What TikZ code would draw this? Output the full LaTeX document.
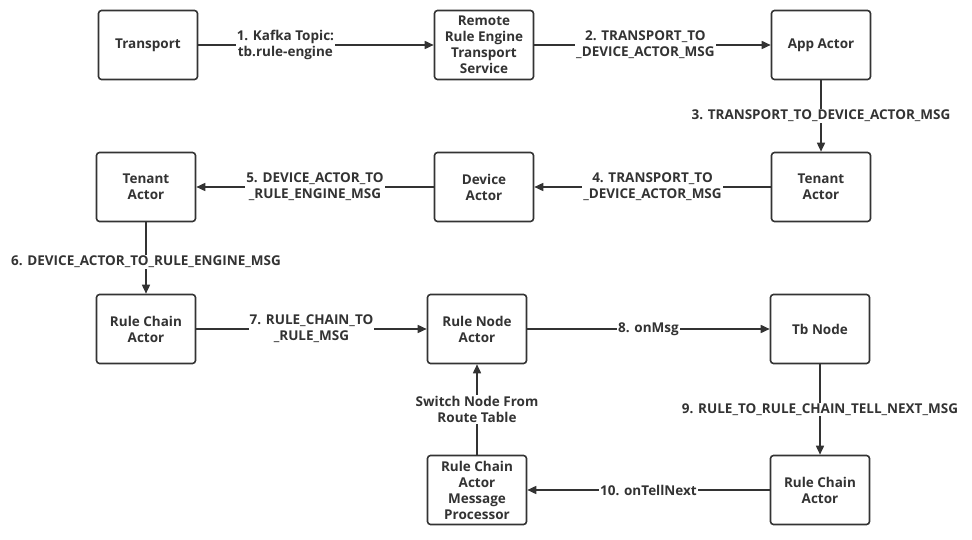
\documentclass[tikz,border=0pt]{standalone}
\usepackage{fontspec}
\setmainfont{Open Sans}
\usetikzlibrary{arrows.meta}
\definecolor{ink}{HTML}{333333}
\tikzset{
  box/.style={draw=ink, line width=1.6pt, rounded corners=3pt, minimum width=99pt, minimum height=69pt, align=center, text=ink, font=\bfseries\fontsize{13.5}{16}\selectfont, inner sep=2pt},
  conn/.style={draw=ink, line width=1.6pt, -{Triangle[length=9pt,width=8pt]}},
  lbl/.style={fill=white, text=ink, align=center, font=\bfseries\fontsize{13.5}{16}\selectfont, inner sep=1pt}
}
\begin{document}
\begin{tikzpicture}[x=1pt,y=-1pt]
\useasboundingbox[fill=white] (0,0) rectangle (972,540);
\node[box] (transport) at (148,45) {Transport};
\node[box] (remote) at (484,45) {Remote\\Rule Engine\\Transport\\Service};
\node[box] (app) at (821,45) {App Actor};
\node[box] (tenantR) at (821,187) {Tenant\\Actor};
\node[box] (device) at (484,187) {Device\\Actor};
\node[box] (tenantL) at (146,187) {Tenant\\Actor};
\node[box] (rcaL) at (146,329) {Rule Chain\\Actor};
\node[box] (rna) at (477,329) {Rule Node\\Actor};
\node[box] (tb) at (820,329) {Tb Node};
\node[box] (rcaR) at (820,490) {Rule Chain\\Actor};
\node[box] (proc) at (477,490) {Rule Chain\\Actor\\Message\\Processor};

\draw[conn] (transport) -- node[lbl, pos=0.37] {1. Kafka Topic:\\tb.rule-engine} (remote);
\draw[conn] (remote) -- node[lbl, pos=0.47] {2. TRANSPORT\_TO\\\_DEVICE\_ACTOR\_MSG} (app);
\draw[conn] (app) -- node[lbl] {3. TRANSPORT\_TO\_DEVICE\_ACTOR\_MSG} (tenantR);
\draw[conn] (tenantR) -- node[lbl] {4. TRANSPORT\_TO\\\_DEVICE\_ACTOR\_MSG} (device);
\draw[conn] (device) -- node[lbl] {5. DEVICE\_ACTOR\_TO\\\_RULE\_ENGINE\_MSG} (tenantL);
\draw[conn] (tenantL) -- node[lbl, pos=0.55] {6. DEVICE\_ACTOR\_TO\_RULE\_ENGINE\_MSG} (rcaL);
\draw[conn] (rcaL) -- node[lbl] {7. RULE\_CHAIN\_TO\\\_RULE\_MSG} (rna);
\draw[conn] (rna) -- node[lbl] {8. onMsg} (tb);
\draw[conn] (tb) -- node[lbl] {9. RULE\_TO\_RULE\_CHAIN\_TELL\_NEXT\_MSG} (rcaR);
\draw[conn] (rcaR) -- node[lbl] {10. onTellNext} (proc);
\draw[conn] (proc) -- node[lbl] {Switch Node From\\Route Table} (rna);
\end{tikzpicture}
\end{document}
